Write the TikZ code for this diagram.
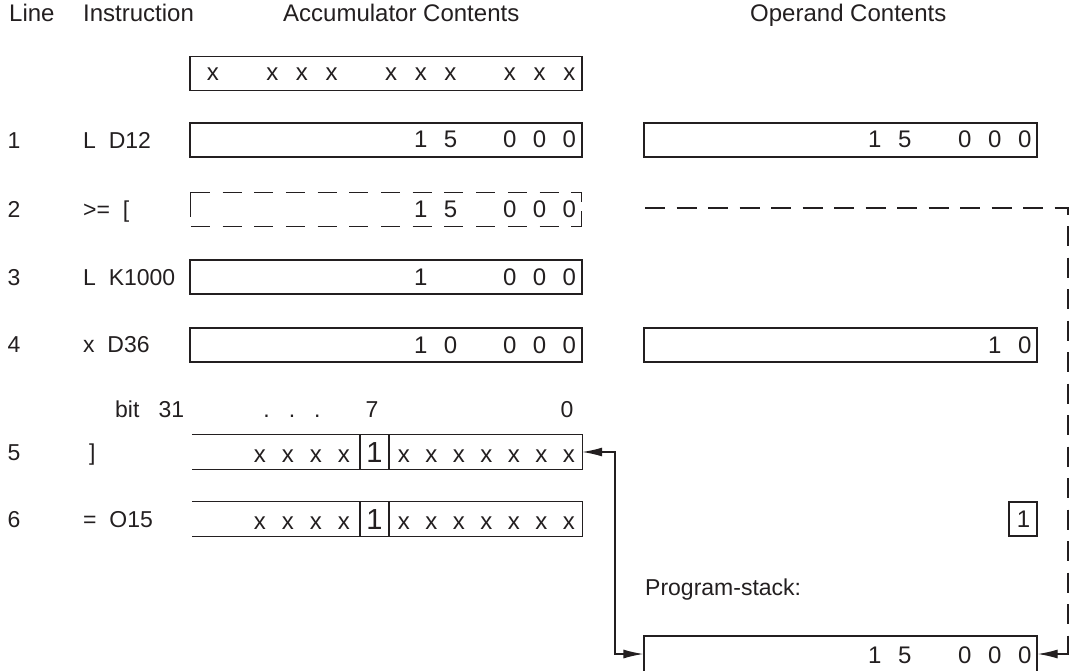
\documentclass[tikz,border=0pt]{standalone}
\usepackage{fontspec}
\setmainfont{Liberation Sans}
\usetikzlibrary{arrows.meta}
\definecolor{ink}{RGB}{35,31,32}
\newcommand\acl[1]{\makebox[29.7pt]{#1}}
\newcommand\ocl[1]{\makebox[30pt]{#1}}
\newcommand\lcl[1]{\makebox[28pt]{#1}}
\newcommand\rcl[1]{\makebox[27.5pt]{#1}}
\begin{document}
\begin{tikzpicture}[x=1pt,y=-1pt,
  hdr/.style={font=\fontsize{24}{28}\selectfont, text=ink, inner sep=0pt, anchor=base west},
  lbl/.style={font=\fontsize{23}{27}\selectfont, text=ink, inner sep=0pt, anchor=base west},
  num/.style={font=\fontsize{23}{27}\selectfont, text=ink, inner sep=0pt, anchor=base},
  digs/.style={font=\fontsize{24}{28}\selectfont, text=ink, inner sep=0pt, anchor=base east},
  bigdig/.style={font=\fontsize{29}{32}\selectfont, text=ink, inner sep=0pt, anchor=base},
  box/.style={draw=ink, line width=1.3pt, rectangle, inner sep=0pt, minimum height=34pt},
  accbox/.style={box, minimum width=392pt},
  opbox/.style={box, minimum width=393pt},
  openbox/.style={rectangle, inner sep=0pt, minimum height=34pt, minimum width=390pt},
  conn/.style={draw=ink, line width=1.3pt},
  dsh/.style={draw=ink, line width=1.3pt, dash pattern=on 20pt off 11.5pt},
  bdsh/.style={draw=ink, line width=1.3pt, dash pattern=on 19pt off 12.7pt},
  tip/.style={-{Latex[length=20pt,width=9pt]}},
  tips/.style={{Latex[length=20pt,width=9pt]}-{Latex[length=20pt,width=9pt]}}
]
\useasboundingbox (0,0) rectangle (1075,671);

% headers
\node[hdr] (hLine) at (9,22) {Line};
\node[hdr] (hInstr) at (83,22) {Instruction};
\node[hdr] (hAcc) at (283,22) {Accumulator Contents};
\node[hdr] (hOp) at (750,22) {Operand Contents};

% line numbers
\node[num] (n1) at (14,149) {1};
\node[num] (n2) at (14,217) {2};
\node[num] (n3) at (14,285) {3};
\node[num] (n4) at (14,352) {4};
\node[num] (n5) at (14,460) {5};
\node[num] (n6) at (14,527) {6};

% instructions
\node[lbl] (i1) at (83,149) {L\ \ D12};
\node[lbl] (i2) at (83,217) {>=\ \ [};
\node[lbl] (i3) at (83,285) {L\ \ K1000};
\node[lbl] (i4) at (83,352) {x\ \ D36};
\node[lbl] (i5) at (89,460) {]};
\node[lbl] (i6) at (83,527) {=\ \ O15};

% accumulator boxes
\node[accbox] (a0) at (386,73.5) {};
\node[digs] (t0) at (584.35,81) {\acl{x}\acl{}\acl{x}\acl{x}\acl{x}\acl{}\acl{x}\acl{x}\acl{x}\acl{}\acl{x}\acl{x}\acl{x}};
\node[accbox] (a1) at (386,140) {};
\node[digs] (t1) at (584.35,148) {\acl{1}\acl{5}\acl{}\acl{0}\acl{0}\acl{0}};
\node[openbox] (a2) at (386,209.5) {};
\draw[bdsh] (a2.north west) -- (a2.north east);
\draw[bdsh] (a2.south west) -- (a2.south east);
\draw[conn] (a2.north west) -- ++(0,25);
\draw[conn] (a2.north east) -- ++(0,10);
\draw[conn] (a2.south east) -- ++(0,-16);
\node[digs] (t2) at (584.35,217.5) {\acl{1}\acl{5}\acl{}\acl{0}\acl{0}\acl{0}};
\node[accbox] (a3) at (386,277) {};
\node[digs] (t3) at (584.35,285) {\acl{1}\acl{}\acl{}\acl{0}\acl{0}\acl{0}};
\node[accbox] (a4) at (386,345) {};
\node[digs] (t4) at (584.35,353) {\acl{1}\acl{0}\acl{}\acl{0}\acl{0}\acl{0}};

% bit labels
\node[lbl] (bit) at (115,417) {bit\ \ \ 31};
\node[num] (dots) at (292,417) {.\hspace{19pt}.\hspace{19pt}.};
\node[num] (b7) at (372,417) {7};
\node[num] (b0) at (567,417) {0};

% bit rows
\node[openbox] (a5) at (387,452) {};
\draw[conn] (a5.north west) -- (a5.north east) -- (a5.south east) -- (a5.south west);
\draw[conn] (360,435) -- (360,469) (389,435) -- (389,469);
\node[digs] (t5l) at (358,462) {\lcl{x}\lcl{x}\lcl{x}\lcl{x}};
\node[bigdig] (t5b) at (374.5,462) {1};
\node[digs] (t5r) at (582.75,462) {\rcl{x}\rcl{x}\rcl{x}\rcl{x}\rcl{x}\rcl{x}\rcl{x}};

\node[openbox] (a6) at (387,519) {};
\draw[conn] (a6.north west) -- (a6.north east) -- (a6.south east) -- (a6.south west);
\draw[conn] (360,502) -- (360,536) (389,502) -- (389,536);
\node[digs] (t6l) at (358,529) {\lcl{x}\lcl{x}\lcl{x}\lcl{x}};
\node[bigdig] (t6b) at (374.5,529) {1};
\node[digs] (t6r) at (582.75,529) {\rcl{x}\rcl{x}\rcl{x}\rcl{x}\rcl{x}\rcl{x}\rcl{x}};

% operand boxes
\node[opbox] (o1) at (840.5,140) {};
\node[digs] (u1) at (1040,148) {\ocl{1}\ocl{5}\ocl{}\ocl{0}\ocl{0}\ocl{0}};
\node[opbox] (o4) at (840.5,345) {};
\node[digs] (u4) at (1040,353) {\ocl{1}\ocl{0}};
\node[box, minimum width=28pt] (o6) at (1023,519) {};
\node[digs] (u6) at (1030.5,527) {1};

% program stack
\node[lbl] (psl) at (645,595) {Program-stack:};
\node[opbox, minimum height=36pt] (ps) at (840.5,654) {};
\node[digs] (ups) at (1040,663) {\ocl{1}\ocl{5}\ocl{}\ocl{0}\ocl{0}\ocl{0}};

% connectors
\coordinate (j1) at (615,452);
\draw[conn, tips] (a5.east) -- (j1) |- (ps.west);
\coordinate (d0) at (645,208);
\coordinate (d1) at (1068,208);
\coordinate (d2) at (1068,644);
\draw[dsh] (d0) -- (d1) -- (d2);
\draw[conn, tip] (d2) |- (ps.east);
\end{tikzpicture}
\end{document}
